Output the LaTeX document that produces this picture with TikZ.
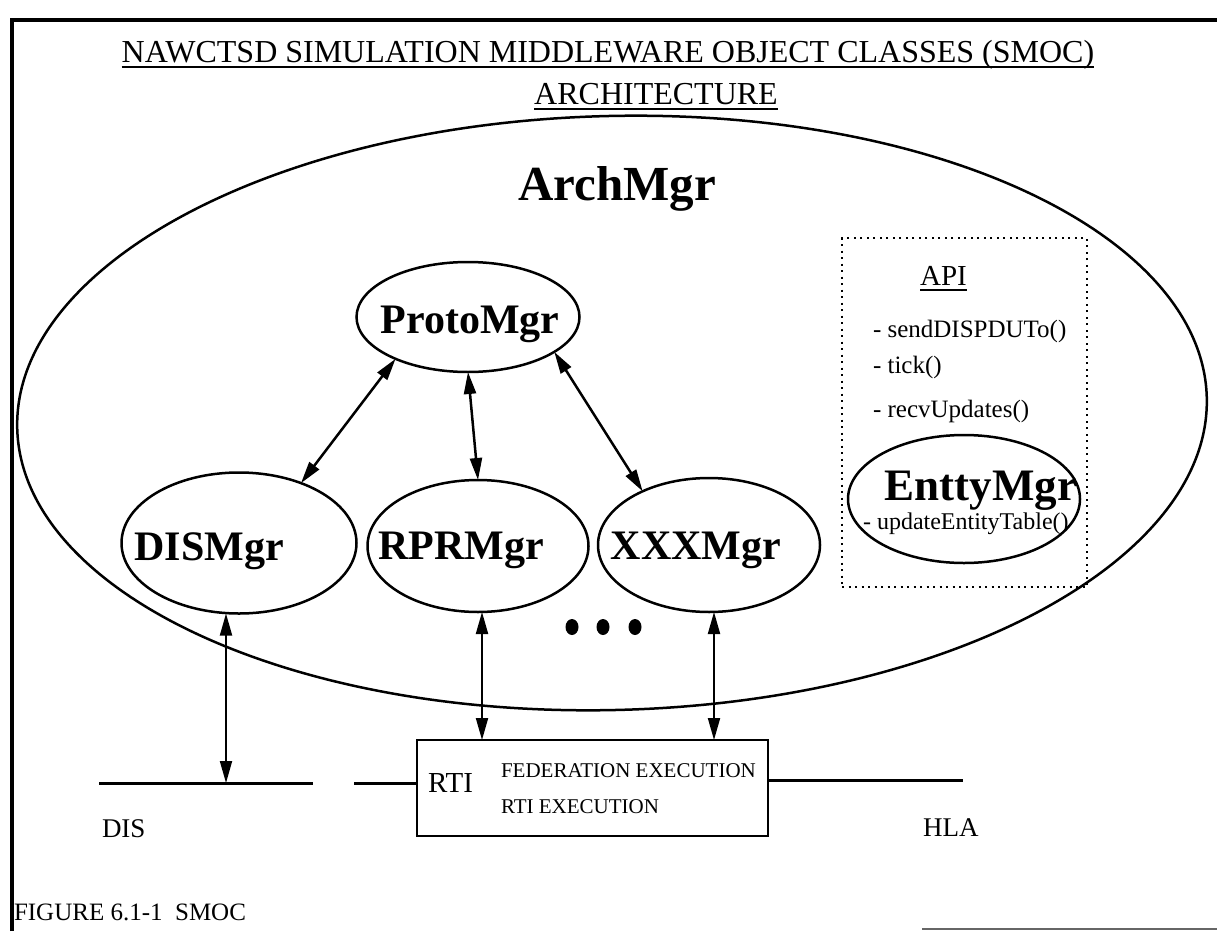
\documentclass[tikz,border=0pt]{standalone}
\usepackage{fontspec}
\setmainfont{Liberation Serif}
\usetikzlibrary{shapes.geometric, arrows.meta}
\tikzstyle{every node}=[inner sep=0pt, outer sep=0pt]
\tikzstyle{mgr}=[ellipse, draw, line width=2.5pt]
\tikzstyle{link}=[<->, >={Triangle[length=22pt, width=12pt]}, line width=2.5pt]
\tikzstyle{bus}=[line width=3pt]
\newcommand{\mgrfont}{\fontsize{42}{42}\selectfont\bfseries}
\newcommand{\apifont}{\fontsize{25}{25}\selectfont}

\begin{document}
\begin{tikzpicture}[x=1pt, y=-1pt, line width=2.5pt]
\useasboundingbox (0,0) rectangle (1217,931);
% Frame
    \draw[line width=4.5pt] (12,931) -- (12,20) -- (1217,20);
    \draw[line width=2pt, black!60] (922,929) -- (1217,929);
% Title
    \node[anchor=base, font=\fontsize{32}{32}\selectfont] (title) at (608,63) {NAWCTSD SIMULATION MIDDLEWARE OBJECT CLASSES (SMOC)};
    \node[anchor=base, font=\fontsize{32}{32}\selectfont] (subtitle) at (656,105) {ARCHITECTURE};
    \draw[line width=2pt] ([yshift=-4pt]title.base west) -- ([yshift=-4pt]title.base east);
    \draw[line width=2pt] ([yshift=-4pt]subtitle.base west) -- ([yshift=-4pt]subtitle.base east);
% ArchMgr
    \node[mgr, minimum width=1190pt, minimum height=594pt, rotate=1.5] (arch) at (612,413) {};
    \node[anchor=base, font=\fontsize{49}{49}\selectfont\bfseries] (archtxt) at (617,200) {ArchMgr};
% Managers
    \node[mgr, minimum width=223pt, minimum height=110pt] (proto) at (468,317) {};
    \node[mgr, minimum width=235pt, minimum height=141pt] (dis) at (239,543) {};
    \node[mgr, minimum width=221pt, minimum height=132pt] (rpr) at (478,546) {};
    \node[mgr, minimum width=222pt, minimum height=134pt] (xxx) at (709,545) {};
    \node[anchor=base, font=\mgrfont] (prototxt) at (470,333) {ProtoMgr};
    \node[anchor=base, font=\mgrfont] (distxt) at (209,560) {DISMgr};
    \node[anchor=base, font=\mgrfont] (rprtxt) at (461,559) {RPRMgr};
    \node[anchor=base, font=\mgrfont] (xxxtxt) at (696,559) {XXXMgr};
    \foreach \x in {572,603,635}
        \fill (\x,627) ellipse (6.5 and 8);
% API
    \node[draw, line width=2pt, dash pattern=on 2pt off 4.5pt, minimum width=245pt, minimum height=349pt] (api) at (964.5,412.5) {};
    \node[anchor=base, font=\fontsize{29}{29}\selectfont] (apitxt) at (943.5,285) {API};
    \draw[line width=2pt] ([yshift=-5pt]apitxt.base west) -- ([yshift=-5pt]apitxt.base east);
    \node[anchor=base west, font=\apifont] (send) at (873,337) {- sendDISPDUTo()};
    \node[anchor=base west, font=\apifont] (tick) at (873,373) {- tick()};
    \node[anchor=base west, font=\apifont] (recv) at (873,417) {- recvUpdates()};
    \node[mgr, minimum width=232pt, minimum height=128pt] (entty) at (964,499) {};
    \node[anchor=base, font=\fontsize{45}{45}\selectfont\bfseries] (enttytxt) at (981,500) {EnttyMgr};
    \node[anchor=base west, font=\fontsize{24}{24}\selectfont] (update) at (863,529) {- updateEntityTable()};
% RTI
    \node[draw, line width=2.5pt, minimum width=351pt, minimum height=96pt] (rti) at (592.5,788) {};
    \node[anchor=base west, font=\fontsize{29}{29}\selectfont] (rtitxt) at (428,792) {RTI};
    \node[anchor=base west, font=\fontsize{21}{21}\selectfont] (fedex) at (501,777) {FEDERATION EXECUTION};
    \node[anchor=base west, font=\fontsize{21}{21}\selectfont] (rtiex) at (501,813) {RTI EXECUTION};
% Arrows
    \draw[link] (proto.210) -- (dis.44);
    \draw[link] (proto.south) -- (rpr.north);
    \draw[link] (proto.-22) -- (xxx.141);
    \coordinate (disjoin) at (226,783);
    \draw[link, line width=1.8pt] (dis.south -| disjoin) -- (disjoin);
    \draw[link, line width=2pt] ([xshift=4pt]rpr.south) -- ([xshift=4pt]rpr.south |- rti.north);
    \draw[link, line width=2pt] ([xshift=5pt]xxx.south) -- ([xshift=5pt]xxx.south |- rti.north);
% Networks
    \coordinate (disl) at (99,783);
    \coordinate (disr) at (313,783);
    \coordinate (rtil) at (354,783);
    \coordinate (hlar) at (963,780);
    \draw[bus] (disl) -- (disr);
    \draw[bus] (rtil) -- (rtil -| rti.west);
    \draw[bus] (hlar -| rti.east) -- (hlar);
    \node[anchor=base west, font=\fontsize{27}{27}\selectfont] (dislbl) at (102,837) {DIS};
    \node[anchor=base west, font=\fontsize{27}{27}\selectfont] (hlalbl) at (923,836) {HLA};
    \node[anchor=base west, font=\fontsize{25}{25}\selectfont] (caption) at (14,920) {FIGURE 6.1-1\ \ SMOC};
\end{tikzpicture}
\end{document}
